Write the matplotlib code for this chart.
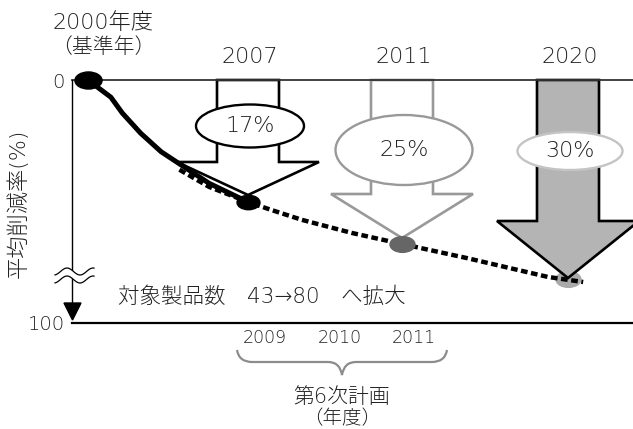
import numpy as np
import matplotlib.pyplot as plt
import matplotlib.transforms as mtransforms
from matplotlib.patches import Polygon, Ellipse, PathPatch
from matplotlib.path import Path

plt.rcParams['font.family'] = ['DejaVu Sans', 'Noto Sans CJK JP']
plt.rcParams['font.weight'] = 'light'

W, H = 633, 429

# milestones: base year + targets
dot_years = [2000, 2007, 2011, 2020]
dot_rates = [0, 17, 25, 30]
target_years = [2007, 2011, 2020]
target_rates = [17, 25, 30]
target_labels = ['17%', '25%', '30%']

# solid (achieved) and dotted (planned) paths
actual_years = [2000, 2001.0, 2001.5, 2002.3, 2003.2, 2004.2, 2005.3, 2007]
actual_rates = [0, 2.4, 4.6, 7.4, 10.0, 12.1, 14.4, 17]
plan_years = [2004.0, 2005.3, 2007, 2007.6, 2008.4, 2009.7, 2011, 2014.5, 2018.9, 2020.7]
plan_rates = [12.5, 14.9, 17, 18.5, 20.4, 22.9, 25, 27, 29.7, 34.8]

plan_period = ['2009', '2010', '2011']

# schematic (non linear) axes
year_nodes = [1999, 2000, 2007, 2011, 2020, 2023]
year_pos = [-16, 0, 160, 314, 480, 545]
rate_nodes = [0, 17, 25, 30, 100]
rate_pos = [0, 122, 164, 199, 243]

def xf(v):
    return np.interp(v, year_nodes, year_pos)

def xi(v):
    return np.interp(v, year_pos, year_nodes)

def yf(v):
    return np.interp(v, rate_nodes, rate_pos)

def yi(v):
    return np.interp(v, rate_pos, rate_nodes)

fig = plt.figure(figsize=(W / 100, H / 100), dpi=100)
ax = fig.add_axes([72 / W, (H - 323) / H, (W - 72) / W, 243 / H])
ax.set_xscale('function', functions=(xf, xi))
ax.set_yscale('function', functions=(yf, yi))
ax.set_xlim(1999, 2023)
ax.set_ylim(100, 0)
ax.set_xticks([])
ax.set_yticks([0, 100])
ax.set_yticklabels(['0', '100'])
ax.minorticks_off()
ax.tick_params(axis='y', length=0, pad=5, labelsize=14, colors='#222222')
for s in ['left', 'right']:
    ax.spines[s].set_visible(False)
ax.spines['top'].set_color('#333333')
ax.spines['top'].set_linewidth(1.3)
ax.spines['bottom'].set_color('black')
ax.spines['bottom'].set_linewidth(1.6)

ident = mtransforms.IdentityTransform()

def disp(x, y):
    return (x, H - y)

# block arrows with percentage badges
head_len = [33, 44, 57]
tip_lift = [7, 6, 1]
arrow_face = ['white', 'white', '#b4b4b4']
arrow_edge = ['black', '#999999', 'black']
badge_drop = [46, 70, 71]
badge_size = [(108, 43), (137, 70), (105, 38)]
badge_edge = ['black', '#999999', '#c4c4c4']
hw, HW = 31, 71

for i, (yr, rt, lab) in enumerate(zip(target_years, target_rates, target_labels)):
    tx, ty = ax.transData.transform((yr, rt))
    top = ax.transData.transform((yr, 0))[1]
    ty += tip_lift[i]
    hb = ty + head_len[i]
    verts = [(tx - hw, top), (tx + hw, top), (tx + hw, hb), (tx + HW, hb),
             (tx, ty), (tx - HW, hb), (tx - hw, hb)]
    ax.add_patch(Polygon(verts, closed=True, facecolor=arrow_face[i],
                         edgecolor=arrow_edge[i], lw=1.9, transform=ident,
                         clip_on=False, zorder=2, joinstyle='miter'))
    cy = top - badge_drop[i]
    bw, bh = badge_size[i]
    ax.add_patch(Ellipse((tx + 2, cy), bw, bh, facecolor='white',
                         edgecolor=badge_edge[i], lw=1.7, transform=ident,
                         clip_on=False, zorder=3))
    ax.text(tx + 2, cy, lab, transform=ident, ha='center', va='center',
            fontsize=16, color='#222222', zorder=3.5)
    ax.text(tx + 2, H - 57, str(yr), transform=ident, ha='center',
            va='center', fontsize=16, color='#222222')

# reduction curves
ax.plot(plan_years, plan_rates, color='black', lw=3.2,
        linestyle=(0, (1.5, 0.8)), dash_capstyle='butt', zorder=4,
        clip_on=False)
ax.plot(actual_years, actual_rates, color='black', lw=3.6,
        solid_capstyle='round', zorder=5, clip_on=False)

# milestone dots (ellipses)
oval = Path.unit_circle().transformed(mtransforms.Affine2D().scale(1, 0.63))
dot_colors = ['black', 'black', '#666666', '#aaaaaa']
dot_sizes = [19.5, 16.5, 18, 18]
dot_z = [6, 6, 6, 1.5]
for yr, rt, c, ms, z in zip(dot_years, dot_rates, dot_colors, dot_sizes, dot_z):
    ax.plot([yr], [rt], marker=oval, ms=ms, color=c, ls='none',
            zorder=z, clip_on=False)

# left axis with break and arrow head
ax.add_line(plt.Line2D([72, 72], [H - 80, H - 304], color='black', lw=1.0,
                       transform=ident, clip_on=False, zorder=6))
ax.add_patch(Polygon([disp(64, 303), disp(81, 303), disp(72.5, 320)],
                     closed=True, color='black', transform=ident,
                     clip_on=False, zorder=6))
wx = np.linspace(55, 94, 60)
wy = 271.5 - 3.5 * np.sin(2 * np.pi * (wx - 60.5) / 26)
band = list(zip(wx, H - wy)) + list(zip(wx[::-1], H - wy[::-1] - 8))
ax.add_patch(Polygon(band, closed=True, facecolor='white', edgecolor='none',
                     transform=ident, clip_on=False, zorder=7))
for off in [0, 8]:
    ax.add_line(plt.Line2D(wx, H - wy - off, color='black', lw=0.9,
                           transform=ident, clip_on=False, zorder=8))

# texts
txt = dict(transform=ident, ha='center', va='center', color='#222222')
fig.text(103, H - 23, '2000年度', fontsize=16, **txt)
fig.text(103, H - 47, '（基準年）', fontsize=15, **txt)
fig.text(18, H - 203, '平均削減率(%)', fontsize=16, rotation=90, **txt)
fig.text(118, H - 297, '対象製品数\u300043→80\u3000へ拡大', fontsize=15.5,
         transform=ident, ha='left', va='center', color='#222222')
for lab, x in zip(plan_period, [265, 340, 414]):
    fig.text(x, H - 338, lab, fontsize=12.5, **txt)
fig.text(342, H - 397, '第6次計画', fontsize=15, **txt)
fig.text(342, H - 419, '（年度）', fontsize=14, **txt)

# brace under the plan period
bp = [(237, 350), (239, 362), (252, 362), (328, 362), (340, 362), (342, 375),
      (344, 362), (356, 362), (432, 362), (445, 362), (447, 350)]
codes = [Path.MOVETO, Path.CURVE3, Path.CURVE3, Path.LINETO, Path.CURVE3,
         Path.CURVE3, Path.CURVE3, Path.CURVE3, Path.LINETO, Path.CURVE3,
         Path.CURVE3]
brace = Path([disp(x, y) for x, y in bp], codes)
ax.add_patch(PathPatch(brace, facecolor='none', edgecolor='#8c8c8c', lw=1.6,
                       transform=ident, clip_on=False))

fig.savefig('out.png', dpi=100)
